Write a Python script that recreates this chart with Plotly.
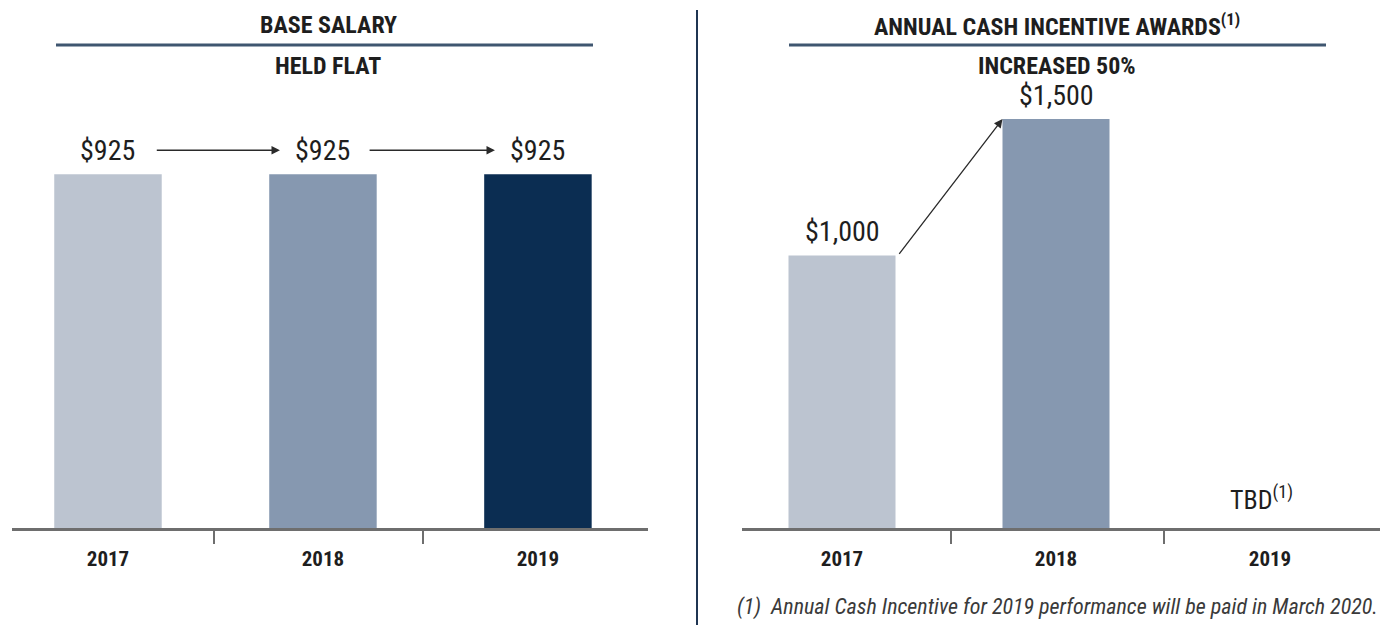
import plotly.graph_objects as go
from plotly.subplots import make_subplots

# Data #
years = ["2017", "2018", "2019"]
base_salary = [925, 925, 925]
cash_incentive = [1000, 1500]
bar_colors = ["#bcc4d0", "#8698b0", "#0b2d52"]

W, H = 1389, 642
FONT = "Roboto Condensed, Roboto, Liberation Sans, sans-serif"
AXIS_COLOR = "#6e6e6e"
TEXT_COLOR = "#1e1e1e"


def px_x(p):
    return p / W


def px_y(p):
    return 1 - p / H


fig = make_subplots(rows=1, cols=2)

x_pos = list(range(len(years)))

# Figure Data Selection #
fig.add_trace(go.Bar(x=x_pos, y=base_salary, width=0.5,
                     marker=dict(color=bar_colors, line=dict(width=0)),
                     hoverinfo="skip"), row=1, col=1)

fig.add_trace(go.Bar(x=x_pos[:len(cash_incentive)], y=cash_incentive, width=0.5,
                     marker=dict(color=bar_colors[:len(cash_incentive)], line=dict(width=0)),
                     hoverinfo="skip"), row=1, col=2)

# Value labels #
for xref, values in (("x", base_salary), ("x2", cash_incentive)):
    yref = xref.replace("x", "y")
    for i, v in enumerate(values):
        fig.add_annotation(x=x_pos[i], y=v, xref=xref, yref=yref, text=f"${v:,}",
                           xanchor="center", yanchor="bottom", yshift=5, showarrow=False,
                           font=dict(size=28, family=FONT, color=TEXT_COLOR))

# Figure Layout #
fig.update_layout(width=W, height=H, margin=dict(l=0, r=0, t=0, b=0),
                  plot_bgcolor="white", paper_bgcolor="white",
                  showlegend=False, font=dict(family=FONT, color=TEXT_COLOR))

axis_common = dict(tickmode="array", tickvals=x_pos, ticktext=[f"<b>{y}</b>" for y in years],
                   ticks="", showgrid=False, zeroline=False, showline=True,
                   linecolor=AXIS_COLOR, linewidth=3,
                   tickfont=dict(size=21, family=FONT, color=TEXT_COLOR),
                   ticklabelstandoff=10)

# X-Axis Styles #
fig.update_xaxes(domain=[px_x(12), px_x(648)], range=[-0.4465, 2.512],
                 minor=dict(tickmode="array", tickvals=[0.493, 1.465], ticks="outside",
                            ticklen=13, tickwidth=2, tickcolor=AXIS_COLOR, showgrid=False),
                 **axis_common, row=1, col=1)
fig.update_xaxes(domain=[px_x(742), px_x(1380)], range=[-0.4673, 2.514],
                 minor=dict(tickmode="array", tickvals=[0.509, 1.505], ticks="outside",
                            ticklen=13, tickwidth=2, tickcolor=AXIS_COLOR, showgrid=False),
                 **axis_common, row=1, col=2)

# Y Axis Styles #
fig.update_yaxes(domain=[px_y(528), 1], showgrid=False, zeroline=False,
                 showticklabels=False, showline=False)
fig.update_yaxes(range=[0, 1381], row=1, col=1)
fig.update_yaxes(range=[0, 1937], row=1, col=2)

# Arrows #
arrow = dict(showarrow=True, arrowhead=2, arrowsize=1.3, arrowwidth=1.3,
             arrowcolor="#2a2a2a", text="")
salary_arrow_y = base_salary[0] + 63
fig.add_annotation(x=0.8, y=salary_arrow_y, ax=0.22, ay=salary_arrow_y,
                   xref="x", yref="y", axref="x", ayref="y", **arrow)
fig.add_annotation(x=1.8, y=salary_arrow_y, ax=1.21, ay=salary_arrow_y,
                   xref="x", yref="y", axref="x", ayref="y", **arrow)
fig.add_annotation(x=0.75, y=cash_incentive[1], ax=0.262, ay=cash_incentive[0],
                   xref="x2", yref="y2", axref="x2", ayref="y2", **arrow)

# TBD label #
fig.add_annotation(x=1.96, y=0, xref="x2", yref="y2", yanchor="bottom", yshift=11,
                   text="TBD<sup>(1)</sup>", showarrow=False,
                   font=dict(size=26, family=FONT, color=TEXT_COLOR))

# Headers #
headers = [
    (px_x(328), "<b>BASE SALARY</b>", "<b>HELD FLAT</b>", 56, 593),
    (px_x(1057), "<b>ANNUAL CASH INCENTIVE AWARDS<sup>(1)</sup></b>", "<b>INCREASED 50%</b>", 789, 1326),
]
for xc, title, subtitle, x0, x1 in headers:
    fig.add_annotation(x=xc, y=px_y(25), xref="paper", yref="paper", text=title,
                       xanchor="center", yanchor="middle", showarrow=False,
                       font=dict(size=24, family=FONT, color=TEXT_COLOR))
    fig.add_annotation(x=xc, y=px_y(66), xref="paper", yref="paper", text=subtitle,
                       xanchor="center", yanchor="middle", showarrow=False,
                       font=dict(size=24, family=FONT, color=TEXT_COLOR))
    fig.add_shape(type="line", xref="paper", yref="paper", x0=px_x(x0), x1=px_x(x1),
                  y0=px_y(45), y1=px_y(45), line=dict(color="#3f5670", width=3))

# Divider #
fig.add_shape(type="line", xref="paper", yref="paper", x0=px_x(697), x1=px_x(697),
              y0=px_y(10), y1=px_y(625), line=dict(color="#1f3552", width=2))

# Footnote #
fig.add_annotation(x=px_x(1380), y=px_y(607), xref="paper", yref="paper",
                   xanchor="right", yanchor="middle",
                   text="<i>(1)  Annual Cash Incentive for 2019 performance will be paid in March 2020.</i>",
                   showarrow=False, font=dict(size=22, family=FONT, color="#3a3a3a"))

fig.write_html("out.html", config={"displayModeBar": False},
               post_script="document.body.style.margin='0';")
